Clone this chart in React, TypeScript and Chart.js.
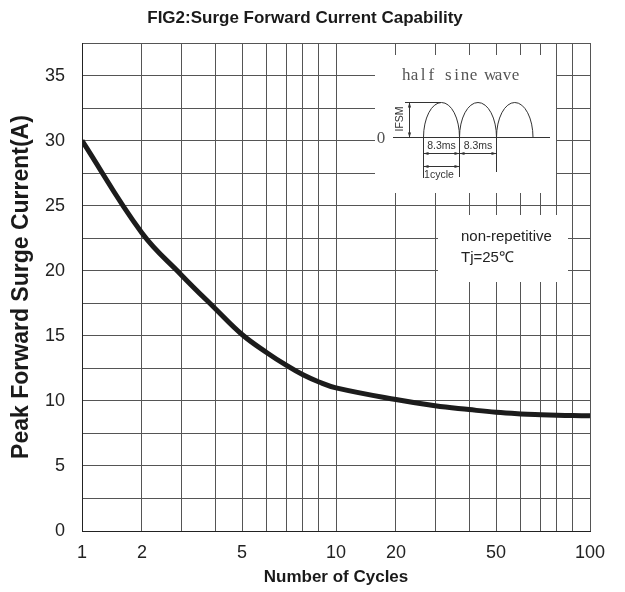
import React, { useEffect, useRef } from 'react';
import { Chart, registerables, LinearScale } from 'chart.js';

// ---- data ----
const CYCLES = [1, 2, 3, 4, 5, 6, 7, 8, 9, 10, 20, 30, 40, 50, 60, 70, 80, 90, 100];
const SURGE_CURRENT = [30, 22.9, 19.7, 17.1, 15.1, 13.7, 12.7, 12.0, 11.45, 11.0, 10.1, 9.62, 9.33, 9.12, 9.0, 8.94, 8.9, 8.87, 8.85];
const X_TICK_LABELS = [1, 2, 5, 10, 20, 50, 100];
const Y_TICK_LABELS = [0, 5, 10, 15, 20, 25, 30, 35];
const TITLE = 'FIG2:Surge Forward Current Capability';
const X_TITLE = 'Number of Cycles';
const Y_TITLE = 'Peak Forward Surge Current(A)';
const NOTE_LINES = ['non-repetitive', 'Tj=25\u2103'];

// ---- graph-paper decade geometry of the printed log axis ----
const DECADE_MANTISSA = [1, 2, 3, 4, 5, 6, 7, 8, 9, 10];
const DECADE_FRACTION = [0, 0.236, 0.39, 0.524, 0.63, 0.728, 0.807, 0.87, 0.933, 1];

function warp(v: number): number {
  if (!(v > 0)) return 0;
  let d = Math.floor(Math.log10(v) + 1e-9);
  let m = v / Math.pow(10, d);
  if (m >= 10) { m /= 10; d += 1; }
  if (m < 1) m = 1;
  for (let i = 0; i < 9; i++) {
    if (m <= DECADE_MANTISSA[i + 1]) {
      const t = (m - DECADE_MANTISSA[i]) / (DECADE_MANTISSA[i + 1] - DECADE_MANTISSA[i]);
      return d + DECADE_FRACTION[i] + t * (DECADE_FRACTION[i + 1] - DECADE_FRACTION[i]);
    }
  }
  return d + 1;
}

function unwarp(w: number): number {
  const d = Math.floor(w);
  const f = w - d;
  for (let i = 0; i < 9; i++) {
    if (f <= DECADE_FRACTION[i + 1]) {
      const t = (f - DECADE_FRACTION[i]) / (DECADE_FRACTION[i + 1] - DECADE_FRACTION[i]);
      return (DECADE_MANTISSA[i] + t * (DECADE_MANTISSA[i + 1] - DECADE_MANTISSA[i])) * Math.pow(10, d);
    }
  }
  return Math.pow(10, d + 1);
}

class GraphPaperScale extends LinearScale {
  static id = 'graphpaper';
  static defaults = {};
  buildTicks() {
    const ticks: { value: number }[] = [];
    const lo = Math.floor(Math.log10(this.min));
    const hi = Math.ceil(Math.log10(this.max));
    for (let d = lo; d <= hi; d++) {
      for (let m = 1; m <= 9; m++) {
        const v = m * Math.pow(10, d);
        if (v >= this.min - 1e-9 && v <= this.max + 1e-9) ticks.push({ value: v });
      }
    }
    return ticks;
  }
  getPixelForValue(value: number) {
    const a = warp(this.min);
    const b = warp(this.max);
    return this.getPixelForDecimal((warp(value) - a) / (b - a));
  }
  getValueForPixel(pixel: number) {
    const a = warp(this.min);
    const b = warp(this.max);
    return unwarp(a + this.getDecimalForPixel(pixel) * (b - a));
  }
}

Chart.register(...registerables, GraphPaperScale as any);

const SANS = "'Liberation Sans', Arial, sans-serif";
const SERIF = "'Liberation Serif', 'Times New Roman', serif";

function arrowLine(ctx: CanvasRenderingContext2D, x1: number, y1: number, x2: number, y2: number) {
  ctx.beginPath();
  ctx.moveTo(x1, y1);
  ctx.lineTo(x2, y2);
  ctx.stroke();
  const ang = Math.atan2(y2 - y1, x2 - x1);
  const head = (x: number, y: number, a: number) => {
    ctx.beginPath();
    ctx.moveTo(x, y);
    ctx.lineTo(x - 5 * Math.cos(a) + 1.6 * Math.sin(a), y - 5 * Math.sin(a) - 1.6 * Math.cos(a));
    ctx.lineTo(x - 5 * Math.cos(a) - 1.6 * Math.sin(a), y - 5 * Math.sin(a) + 1.6 * Math.cos(a));
    ctx.closePath();
    ctx.fill();
  };
  head(x2, y2, ang);
  head(x1, y1, ang + Math.PI);
}

const insetPlugin = {
  id: 'inset',
  beforeDatasetsDraw(chart: any) {
    const { ctx, chartArea } = chart;
    const X = (p: number) => chartArea.left + (p - 82);
    const Y = (p: number) => chartArea.top + (p - 43);
    ctx.save();
    // white panels over the grid
    ctx.fillStyle = '#ffffff';
    ctx.fillRect(X(375), Y(55), 181, 138);
    ctx.fillRect(X(438), Y(215), 130, 67);

    ctx.lineWidth = 1;

    // waveform caption, half-width cells
    ctx.fillStyle = '#555';
    ctx.font = `17px ${SERIF}`;
    ctx.textAlign = 'center';
    ctx.textBaseline = 'middle';
    const label = 'half sine wave';
    for (let i = 0; i < label.length; i++) {
      ctx.fillText(label[i], X(402 + 8.4 * i + 4.2), Y(76));
    }
    ctx.fillText('0', X(381), Y(139));

    ctx.strokeStyle = '#333';
    ctx.fillStyle = '#333';
    // baseline
    ctx.beginPath();
    ctx.moveTo(X(393), Y(137.5));
    ctx.lineTo(X(550), Y(137.5));
    ctx.stroke();
    // arcs
    const arcs = [[423.5, 459.5], [459.5, 496.5], [496.5, 533]];
    arcs.forEach(([a, b]) => {
      ctx.beginPath();
      ctx.ellipse(X((a + b) / 2), Y(137.5), (b - a) / 2, 35, 0, Math.PI, 2 * Math.PI);
      ctx.stroke();
    });
    // IFSM dimension
    ctx.beginPath();
    ctx.moveTo(X(405), Y(102.5));
    ctx.lineTo(X(441), Y(102.5));
    ctx.stroke();
    arrowLine(ctx, X(409.5), Y(137.5), X(409.5), Y(102.5));
    // extension lines
    [[423.5, 178], [459.5, 177], [496.5, 172]].forEach(([x, yb]) => {
      ctx.beginPath();
      ctx.moveTo(X(x), Y(137.5));
      ctx.lineTo(X(x), Y(yb));
      ctx.stroke();
    });
    arrowLine(ctx, X(423.5), Y(153.5), X(459.5), Y(153.5));
    arrowLine(ctx, X(459.5), Y(153.5), X(496.5), Y(153.5));
    arrowLine(ctx, X(423.5), Y(166.5), X(459.5), Y(166.5));

    ctx.fillStyle = '#333';
    ctx.font = `10.5px ${SANS}`;
    ctx.textAlign = 'center';
    ctx.textBaseline = 'middle';
    ctx.fillText('8.3ms', X(441.5), Y(146));
    ctx.fillText('8.3ms', X(478), Y(146));
    ctx.fillText('1cycle', X(439), Y(175));
    ctx.save();
    ctx.translate(X(400), Y(119));
    ctx.rotate(-Math.PI / 2);
    ctx.fillText('IFSM', 0, 0);
    ctx.restore();

    // note
    ctx.fillStyle = '#222';
    ctx.font = `15px ${SANS}`;
    ctx.textAlign = 'left';
    NOTE_LINES.forEach((t, i) => ctx.fillText(t, X(461), Y(237 + 21 * i)));
    ctx.restore();
  },
};

export default function App() {
  const ref = useRef<HTMLCanvasElement | null>(null);
  useEffect(() => {
    if (!ref.current) return;
    Chart.defaults.font.family = SANS;
    const chart = new Chart(ref.current, {
      type: 'line',
      data: {
        datasets: [
          {
            data: CYCLES.map((c, i) => ({ x: c, y: SURGE_CURRENT[i] })),
            borderColor: '#1c1c1c',
            borderWidth: 5,
            pointRadius: 0,
            tension: 0.4,
            fill: false,
          },
        ],
      },
      options: {
        animation: false,
        responsive: false,
        maintainAspectRatio: false,
        layout: { padding: { left: 0, right: 15, top: 0, bottom: 0 } },
        plugins: {
          legend: { display: false },
          tooltip: { enabled: false },
          title: {
            display: true,
            text: TITLE,
            color: '#1a1a1a',
            font: { size: 17, weight: 'bold', family: SANS },
            padding: { top: 8, bottom: 14.6 },
          },
        },
        scales: {
          x: {
            type: 'graphpaper' as any,
            min: 1,
            max: 100,
            afterFit: (s: any) => { s.height = 61; },
            grid: { color: '#555', lineWidth: 1, drawTicks: false },
            border: { color: '#222', width: 1 },
            ticks: {
              autoSkip: false,
              maxRotation: 0,
              padding: 11,
              color: '#222',
              font: { size: 18 },
              callback: (v: any) => (X_TICK_LABELS.includes(Number(v)) ? String(v) : ''),
            },
            title: {
              display: true,
              text: X_TITLE,
              color: '#1a1a1a',
              font: { size: 17, weight: 'bold' },
              padding: { top: 0, bottom: 4 },
            },
          },
          y: {
            type: 'linear',
            min: 0,
            max: 37.5,
            afterFit: (s: any) => { s.width = 82; },
            grid: { color: '#555', lineWidth: 1, drawTicks: false },
            border: { color: '#222', width: 1 },
            ticks: {
              stepSize: 2.5,
              autoSkip: false,
              padding: 17,
              color: '#222',
              font: { size: 18 },
              callback: (v: any) => (Y_TICK_LABELS.includes(Number(v)) ? String(v) : ''),
            },
            title: {
              display: true,
              text: Y_TITLE,
              color: '#1a1a1a',
              font: { size: 23, weight: 'bold' },
              padding: { top: 8.2, bottom: 0 },
            },
          },
          spacer: {
            type: 'linear',
            position: 'right',
            display: true,
            afterFit: (s: any) => { s.width = 20; },
            grid: { display: false, drawOnChartArea: false },
            border: { display: false },
            ticks: { display: false },
          },
        },
      } as any,
      plugins: [insetPlugin],
    });
    return () => chart.destroy();
  }, []);
  return (
    <div style={{ position: 'absolute', left: 0, top: 0, width: 625, height: 592, background: '#fff' }}>
      <canvas ref={ref} width={625} height={592} />
    </div>
  );
}
